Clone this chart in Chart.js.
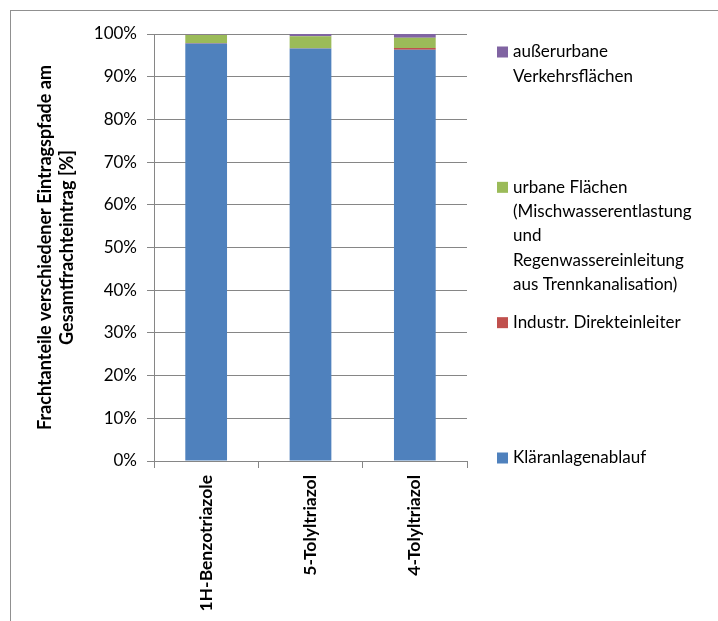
<!DOCTYPE html>
<html>
<head>
<meta charset="utf-8">
<script src="https://cdn.jsdelivr.net/npm/chart.js@4/dist/chart.umd.min.js"></script>
<style>
    html, body { margin: 0; padding: 0; background: #fff; }
    #wrap { position: relative; width: 718px; height: 621px; overflow: hidden; }
    #frame { position: absolute; left: 10px; top: 10px; width: 740px; height: 640px; border: 1px solid #909090; }
    #chart { position: absolute; left: 0; top: 0; }
</style>
</head>
<body>
<div id="wrap">
    <div id="frame"></div>
    <canvas id="chart" width="718" height="621"></canvas>
</div>
<script>
// Substances on the x axis
const categories = ['1H-Benzotriazole', '5-Tolyltriazol', '4-Tolyltriazol'];

// Share of total load per entry path [%]
const klaeranlagenablauf = [97.75, 96.6, 96.3];
const direkteinleiter = [0.15, 0.05, 0.45];
const urbaneFlaechen = [1.9, 2.85, 2.4];
const ausserurbaneFlaechen = [0.2, 0.5, 0.85];

// Legend texts, one entry per line
const labelKlaer = ['Kläranlagenablauf'];
const labelIndustrie = ['Industr. Direkteinleiter'];
const labelUrban = ['urbane Flächen', '(Mischwasserentlastung', 'und', 'Regenwassereinleitung', 'aus Trennkanalisation)'];
const labelAusser = ['außerurbane', 'Verkehrsflächen'];

const yTitle = ['Frachtanteile verschiedener Eintragspfade am', 'Gesamtfrachteintrag [%]'];

const gridGray = '#868686';
const fontFamily = 'Lato, "Open Sans", sans-serif';

// Excel-like legend: entries spread over the height of the plot, multi-line labels
const sideLegend = {
    id: 'sideLegend',
    afterDraw(chart) {
        const ctx = chart.ctx;
        const area = chart.chartArea;
        const sets = chart.data.datasets.slice().reverse();
        const top = area.top + 18;
        const step = (area.bottom - 3 - top) / (sets.length - 1);
        const boxX = area.right + 30;
        const lineH = 24.3;
        ctx.save();
        ctx.font = '17px ' + fontFamily;
        ctx.textBaseline = 'middle';
        ctx.textAlign = 'left';
        sets.forEach((ds, i) => {
            const y = top + i * step;
            ctx.fillStyle = ds.backgroundColor;
            ctx.fillRect(boxX, y - 5.5, 11, 11);
            ctx.fillStyle = '#000';
            ds.legendLines.forEach((line, j) => {
                ctx.fillText(line, boxX + 16, y + j * lineH);
            });
        });
        ctx.restore();
    }
};

const chart = new Chart(document.getElementById('chart'), {
    type: 'bar',
    data: {
        labels: categories,
        datasets: [
            { label: labelKlaer.join(' '), legendLines: labelKlaer, data: klaeranlagenablauf, backgroundColor: '#4F81BD' },
            { label: labelIndustrie.join(' '), legendLines: labelIndustrie, data: direkteinleiter, backgroundColor: '#C0504D' },
            { label: labelUrban.join(' '), legendLines: labelUrban, data: urbaneFlaechen, backgroundColor: '#9BBB59' },
            { label: labelAusser.join(' '), legendLines: labelAusser, data: ausserurbaneFlaechen, backgroundColor: '#8064A2' }
        ]
    },
    options: {
        responsive: false,
        devicePixelRatio: 1,
        animation: false,
        barPercentage: 0.4,
        categoryPercentage: 1,
        layout: {
            padding: { left: 34, top: 34, right: 251, bottom: 0 }
        },
        plugins: {
            legend: { display: false },
            tooltip: { enabled: false }
        },
        scales: {
            x: {
                stacked: true,
                offset: true,
                border: { color: gridGray },
                grid: {
                    offset: true,
                    drawOnChartArea: false,
                    drawTicks: true,
                    tickLength: 7,
                    tickColor: gridGray
                },
                ticks: {
                    color: '#000',
                    font: { family: fontFamily, size: 17.5, weight: 'bold' },
                    minRotation: 90,
                    maxRotation: 90,
                    autoSkip: false,
                    padding: 7
                },
                afterFit(scale) { scale.height = 160; }
            },
            y: {
                stacked: true,
                min: 0,
                max: 100,
                border: { color: gridGray },
                grid: {
                    color: gridGray,
                    tickLength: 7,
                    tickColor: gridGray
                },
                ticks: {
                    stepSize: 10,
                    color: '#000',
                    padding: 10,
                    font: { family: fontFamily, size: 17 },
                    callback: v => v + '%'
                },
                title: {
                    display: true,
                    text: yTitle,
                    color: '#000',
                    padding: 0,
                    font: { family: fontFamily, size: 18, weight: 'bold', lineHeight: '22px' }
                },
                afterFit(scale) { scale.width = 120; }
            }
        }
    },
    plugins: [sideLegend]
});
</script>
</body>
</html>
